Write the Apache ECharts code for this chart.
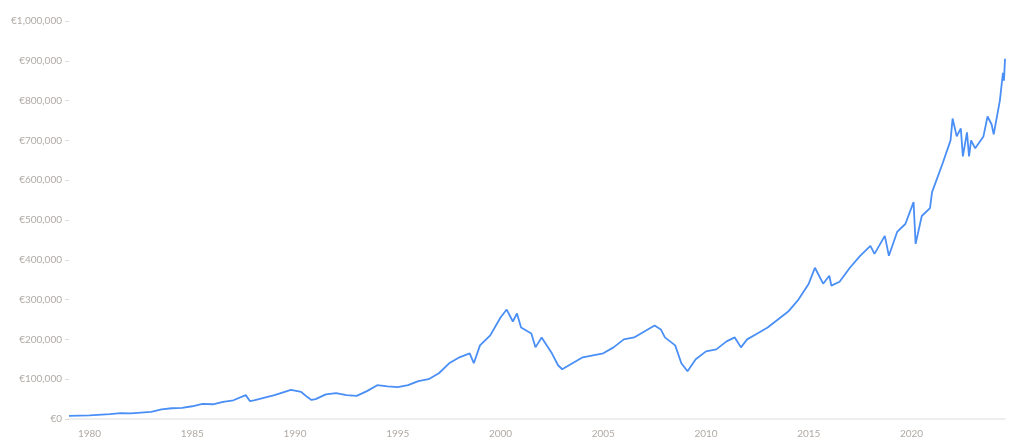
<!DOCTYPE html><html><head><meta charset="utf-8"><script src="https://cdn.jsdelivr.net/npm/echarts@6/dist/echarts.min.js"></script>
<style>html,body{margin:0;background:#fff}#c{width:1024px;height:447px}</style></head><body><div id="c"></div><script>
const years=[1979,1980,1981,1981.5,1982,1983,1983.5,1984,1984.5,1985,1985.5,1986,1986.5,1987,1987.6,1987.8,1988,1989,1989.8,1990.3,1990.6,1990.8,1991,1991.5,1992,1992.5,1993,1993.5,1994,1994.5,1995,1995.5,1996,1996.5,1997,1997.5,1998,1998.5,1998.7,1999,1999.5,2000,2000.3,2000.6,2000.8,2001,2001.5,2001.7,2002,2002.5,2002.8,2003,2003.5,2004,2004.5,2005,2005.5,2006,2006.5,2007,2007.5,2007.8,2008,2008.5,2008.8,2009.1,2009.5,2010,2010.5,2011,2011.4,2011.7,2012,2012.5,2013,2013.5,2014,2014.5,2015,2015.3,2015.7,2016,2016.1,2016.5,2017,2017.5,2018,2018.2,2018.7,2018.9,2019.3,2019.7,2020.1,2020.2,2020.5,2020.9,2021,2021.5,2021.9,2022.0,2022.2,2022.4,2022.5,2022.7,2022.8,2022.9,2023.1,2023.5,2023.7,2023.9,2024.0,2024.3,2024.45,2024.5,2024.55];
const valuesK=[8,9,12,15,14,18,24,27,28,32,38,37,43,47,60,45,47,60,73,68,55,48,50,62,65,60,58,70,85,82,80,85,95,100,115,140,155,165,140,185,210,255,275,245,265,230,215,180,205,165,135,125,140,155,160,165,180,200,205,220,235,225,205,185,140,120,150,170,175,195,205,180,200,215,230,250,270,300,340,380,340,360,335,345,380,410,435,415,460,410,470,490,545,440,510,530,570,640,700,755,710,730,660,720,660,700,680,710,760,740,715,800,870,850,905];
const xTicks=[1980,1985,1990,1995,2000,2005,2010,2015,2020];
const data=years.map((y,i)=>[y,valuesK[i]*1000]);
const lab={color:'#b0aaa5',fontSize:10,fontFamily:'Lato'};
echarts.init(document.getElementById('c')).setOption({
grid:{left:69,right:19,top:21,bottom:28},
xAxis:{type:'value',min:1979,max:2024.55,axisLine:{lineStyle:{color:'#eee',width:2}},axisTick:{show:false},splitLine:{show:false},
 axisLabel:Object.assign({customValues:xTicks,margin:10,formatter:v=>String(v)},lab)},
yAxis:{type:'value',min:0,max:1000000,interval:100000,splitLine:{show:false},axisLine:{show:false},
 axisTick:{show:true,length:4,lineStyle:{color:'#ddd'}},
 axisLabel:Object.assign({margin:7,formatter:v=>'€'+v.toLocaleString('en-US')},lab)},
series:[{type:'line',data:data,showSymbol:false,lineStyle:{color:'#4a8ff5',width:1.8},itemStyle:{color:'#4a8ff5'}}]
});
</script></body></html>
